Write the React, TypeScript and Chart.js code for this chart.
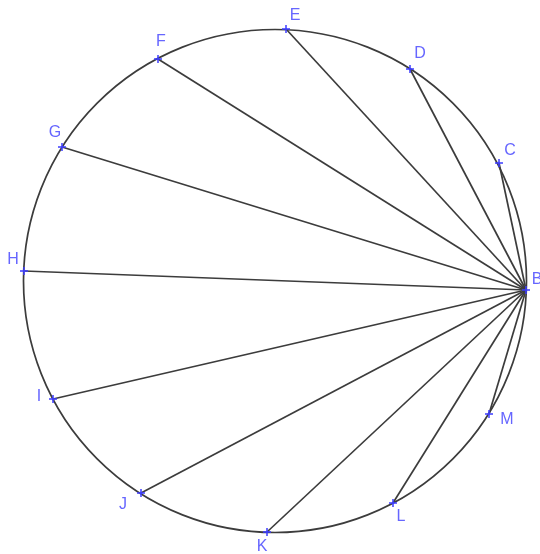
import React, { useEffect, useRef } from "react";
import { Chart, registerables } from "chart.js";

Chart.register(...registerables);

// Point names and coordinates (circle centered at origin, radius ~5.03)
const pointNames = ["B", "C", "D", "E", "F", "G", "H", "I", "J", "K", "L", "M"];
const pointX = [5.02, 4.48, 2.70, 0.22, -2.34, -4.26, -5.02, -4.44, -2.68, -0.16, 2.36, 4.28];
const pointY = [-0.18, 2.36, 4.24, 5.04, 4.44, 2.68, 0.20, -2.36, -4.24, -5.02, -4.44, -2.66];
const circleCenter = [0, 0];
const circleRadius = 5.03;

// label offsets in pixels (style)
const labelDX = [11, 11, 10, 9, 3, -7, -11, -14, -18, -5, 8, 18];
const labelDY = [-10, -12, -15, -13, -17, -14, -11, -2, 12, 15, 14, 6];

const App: React.FC = () => {
  const ref = useRef<HTMLCanvasElement | null>(null);

  useEffect(() => {
    document.body.style.margin = "0";
    const canvas = ref.current;
    if (!canvas) return;

    const pts = pointX.map((x, i) => ({ x, y: pointY[i] }));
    const segDatasets = pts.slice(1).map((p) => ({
      type: "scatter" as const,
      data: [pts[0], p],
      showLine: true,
      borderColor: "#3c3c3c",
      borderWidth: 1.7,
      pointRadius: 0,
      pointHoverRadius: 0,
      clip: false,
      order: 2,
    }));

    const circlePlugin = {
      id: "circlePlugin",
      beforeDatasetsDraw(chart: any) {
        const xs = chart.scales.x;
        const ys = chart.scales.y;
        const cx = xs.getPixelForValue(circleCenter[0]);
        const cy = ys.getPixelForValue(circleCenter[1]);
        const r = xs.getPixelForValue(circleCenter[0] + circleRadius) - cx;
        const ctx = chart.ctx;
        ctx.save();
        ctx.beginPath();
        ctx.arc(cx, cy, r, 0, Math.PI * 2);
        ctx.strokeStyle = "#3c3c3c";
        ctx.lineWidth = 1.7;
        ctx.stroke();
        ctx.restore();
      },
    };

    const labelPlugin = {
      id: "labelPlugin",
      afterDatasetsDraw(chart: any) {
        const xs = chart.scales.x;
        const ys = chart.scales.y;
        const ctx = chart.ctx;
        ctx.save();
        ctx.font = '16px "Liberation Sans", Arial, sans-serif';
        ctx.fillStyle = "#6666ff";
        ctx.textAlign = "center";
        ctx.textBaseline = "middle";
        pointNames.forEach((name, i) => {
          const px = xs.getPixelForValue(pointX[i]);
          const py = ys.getPixelForValue(pointY[i]);
          ctx.fillText(name, px + labelDX[i], py + labelDY[i]);
        });
        ctx.restore();
      },
    };

    const chart = new Chart(canvas, {
      type: "scatter",
      data: {
        datasets: [
          ...segDatasets,
          {
            type: "scatter" as const,
            data: pts,
            pointStyle: "cross",
            pointRadius: 4,
            pointBorderColor: "#3d3dff",
            borderColor: "#3d3dff",
            pointBorderWidth: 1.5,
            showLine: false,
            clip: false,
            order: 1,
          },
        ] as any,
      },
      options: {
        animation: false,
        responsive: false,
        devicePixelRatio: 1,
        layout: { padding: 0, autoPadding: false },
        plugins: {
          legend: { display: false },
          tooltip: { enabled: false },
        },
        events: [],
        scales: {
          x: { type: "linear", min: -5.5, max: 5.3, display: false },
          y: { type: "linear", min: -5.46, max: 5.62, display: false },
        },
      },
      plugins: [circlePlugin, labelPlugin],
    });

    return () => chart.destroy();
  }, []);

  return <canvas ref={ref} width={540} height={554} style={{ display: "block" }} />;
};

export default App;
